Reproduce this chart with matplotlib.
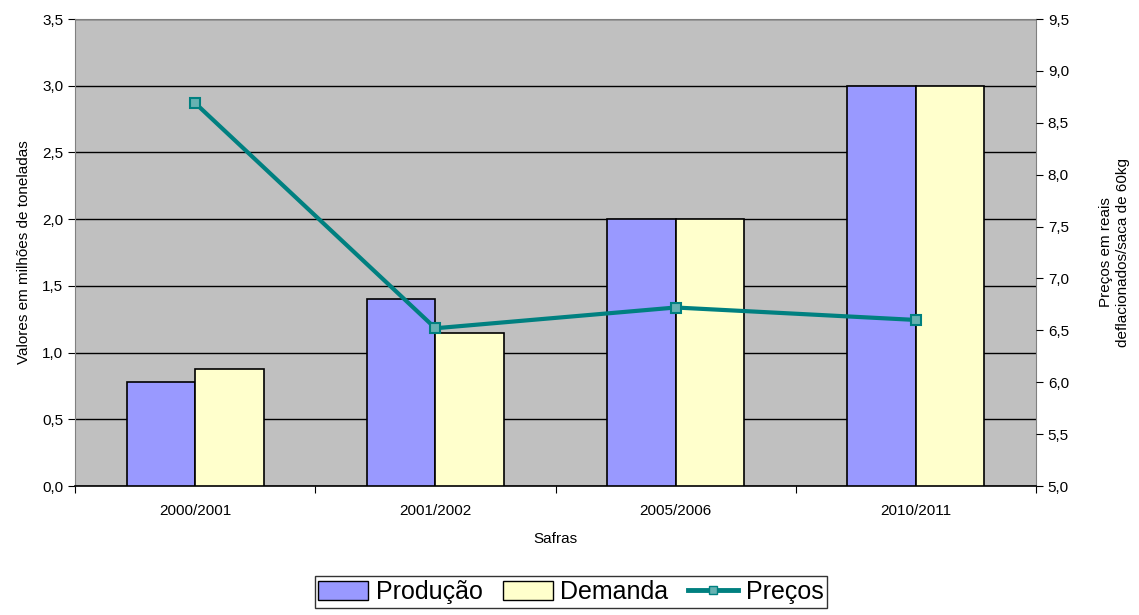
from matplotlib import pyplot as plt
from matplotlib.lines import Line2D
from matplotlib.patches import Patch
import numpy as np

plt.rcParams['font.family'] = ['Liberation Sans', 'DejaVu Sans']

# data
safras = ['2000/2001', '2001/2002', '2005/2006', '2010/2011']
producao = [0.78, 1.40, 2.00, 3.00]
demanda = [0.88, 1.15, 2.00, 3.00]
precos = [8.69, 6.52, 6.72, 6.60]

fig = plt.figure(figsize=(11.39, 6.15), dpi=100)
ax = fig.add_axes([75/1139, 1-486/615, 961/1139, 467/615])
ax.set_facecolor('#C0C0C0')

x = np.arange(len(safras))
w = 0.285
ax.bar(x - w/2, producao, w, color='#9999FF', edgecolor='black', linewidth=1.2, zorder=3)
ax.bar(x + w/2, demanda, w, color='#FFFFCC', edgecolor='black', linewidth=1.2, zorder=3)

ax.set_xlim(-0.5, 3.5)
ax.set_ylim(0, 3.5)
ax.set_yticks(np.arange(0, 3.51, 0.5))
ax.set_yticklabels([f'{v:.1f}'.replace('.', ',') for v in np.arange(0, 3.51, 0.5)])
ax.yaxis.grid(True, color='black', linewidth=1)
ax.set_axisbelow(True)

# ticks between categories, labels at centers
ax.set_xticks(np.arange(-0.5, 3.6, 1))
ax.set_xticklabels([])
ax.set_xticks(x, minor=True)
ax.set_xticklabels(safras, minor=True)
ax.tick_params(axis='x', which='minor', length=0, pad=13)
ax.tick_params(axis='x', which='major', length=5, direction='out')
ax.tick_params(axis='y', length=5, direction='out')
ax.tick_params(which='both', labelsize=11)

for s in ax.spines.values():
    s.set_color('#808080')
ax.spines['bottom'].set_color('black')
ax.spines['bottom'].set_linewidth(1.2)

ax.set_xlabel('Safras', fontsize=11, labelpad=10)
ax.set_ylabel('Valores em milhões de toneladas', fontsize=11, labelpad=8)

ax2 = ax.twinx()
ax2.plot(x, precos, color='#008080', linewidth=3, marker='s', markersize=7,
         markerfacecolor='#66B2B2', markeredgecolor='#008080', markeredgewidth=1.5, zorder=5)
ax2.set_ylim(5.0, 9.5)
ax2.set_yticks(np.arange(5.0, 9.51, 0.5))
ax2.set_yticklabels([f'{v:.1f}'.replace('.', ',') for v in np.arange(5.0, 9.51, 0.5)])
ax2.tick_params(axis='y', length=5, direction='out', labelsize=11)
for s in ax2.spines.values():
    s.set_visible(False)
ax2.set_ylabel('Preços em reais\ndeflacionados/saca de 60kg', fontsize=11, labelpad=22)

handles = [Patch(facecolor='#9999FF', edgecolor='black', label='Produção'),
           Patch(facecolor='#FFFFCC', edgecolor='black', label='Demanda'),
           Line2D([], [], color='#008080', linewidth=3.5, marker='s', markersize=6,
                  markerfacecolor='#66B2B2', markeredgecolor='#008080', label='Preços')]
leg = fig.legend(handles=handles, loc='center', bbox_to_anchor=(571/1139, 1-592/615),
                 ncol=3, fontsize=18, frameon=True, fancybox=False, edgecolor='black',
                 handlelength=2.0, handleheight=0.8, handletextpad=0.3,
                 columnspacing=0.8, borderpad=0.15, borderaxespad=0)
leg.get_frame().set_linewidth(1)

plt.savefig('out.png', dpi=100)
